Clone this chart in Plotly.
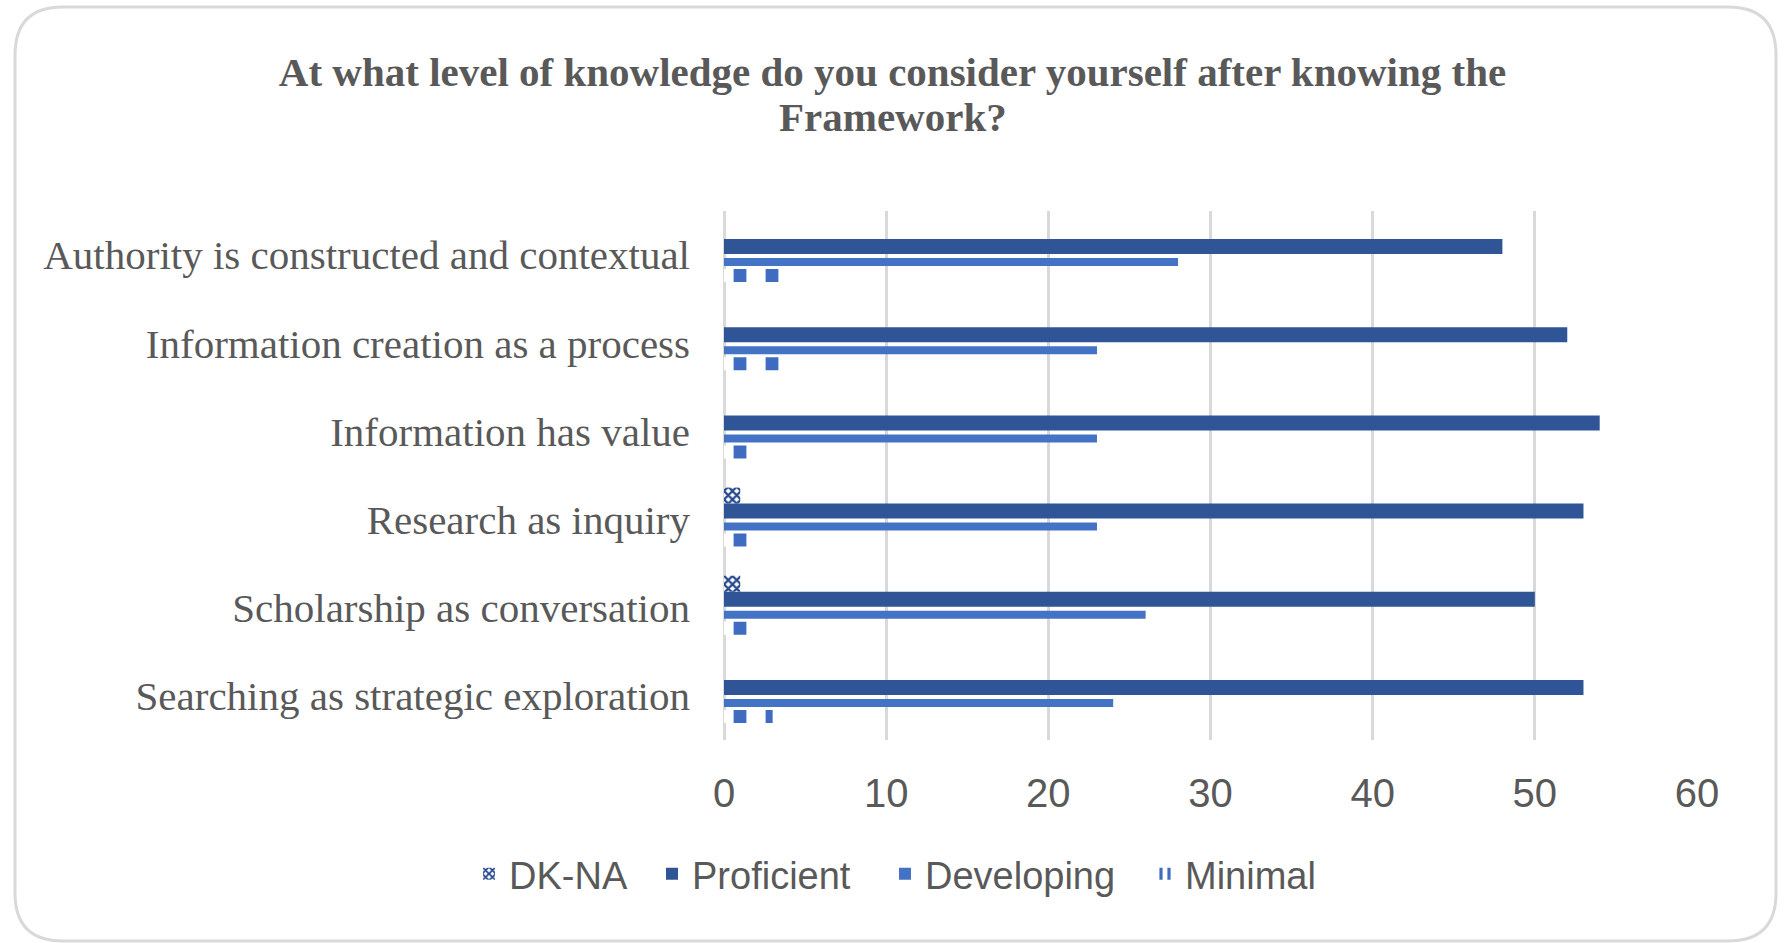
import plotly.graph_objects as go

categories = [
    "Authority is constructed and contextual",
    "Information creation as a process",
    "Information has value",
    "Research as inquiry",
    "Scholarship as conversation",
    "Searching as strategic exploration",
]
dk_na = [0, 0, 0, 1, 1, 0]
proficient = [48, 52, 54, 53, 50, 53]
developing = [28, 23, 23, 23, 26, 24]
minimal = [4, 4, 2, 2, 2, 3]
x_ticks = [0, 10, 20, 30, 40, 50, 60]
title_lines = ["At what level of knowledge do you consider yourself after knowing the", "Framework?"]

W, H = 1785, 943
L, R, T, B = 724, 1697, 211, 740  # plot area in pixels
BAND = (B - T) / len(categories)

GRAY = "#595959"
SANS = "Liberation Sans Narrow, Arial Narrow, Liberation Sans, sans-serif"
SERIF = "Liberation Serif, Times New Roman, serif"


def band(px_from, px_to):
    """offset/width in category units from pixel offsets relative to the category centre"""
    return dict(offset=px_from / BAND, width=(px_to - px_from) / BAND)


fig = go.Figure()
fig.add_trace(go.Bar(
    name="DK-NA", y=categories, x=dk_na, orientation="h", legend="legend",
    marker=dict(color="white", line=dict(width=0),
                pattern=dict(shape="x", fgcolor="#23468C", bgcolor="white", size=6,
                             solidity=0.6, fgopacity=1)),
    **band(-32, -16),
))
fig.add_trace(go.Bar(
    name="Proficient", y=categories, x=proficient, orientation="h", legend="legend2",
    marker=dict(color="#2F5597", line=dict(width=0)),
    **band(-16, -1),
))
fig.add_trace(go.Bar(
    name="Developing", y=categories, x=developing, orientation="h", legend="legend3",
    marker=dict(color="#4472C4", line=dict(width=0)),
    **band(3, 11),
))
fig.add_trace(go.Bar(
    name="Minimal", y=categories, x=minimal, orientation="h", legend="legend4",
    marker=dict(color="white", line=dict(width=0),
                pattern=dict(shape="|", fgcolor="#3F6CC0", bgcolor="white", size=32,
                             solidity=0.4, fgopacity=1)),
    **band(14, 27),
))


def px2paper(px, py):
    return (px - L) / (R - L), (B - py) / (B - T)


def P(px, py):
    a, b = px2paper(px, py)
    return f"{a:.5f},{b:.5f}"


x0, y0, x1, y1, r = 15, 7, 1776, 941, 48
path = (f"M {P(x0 + r, y0)} L {P(x1 - r, y0)} Q {P(x1, y0)} {P(x1, y0 + r)} "
        f"L {P(x1, y1 - r)} Q {P(x1, y1)} {P(x1 - r, y1)} "
        f"L {P(x0 + r, y1)} Q {P(x0, y1)} {P(x0, y1 - r)} "
        f"L {P(x0, y0 + r)} Q {P(x0, y0)} {P(x0 + r, y0)} Z")

_, leg_y = px2paper(0, 874)


def legend_at(icon_left_px):
    lx, _ = px2paper(icon_left_px - 14, 0)
    return dict(orientation="h", x=lx, xanchor="left", y=leg_y, yanchor="middle",
                font=dict(family=SANS, size=38, color=GRAY), bgcolor="rgba(0,0,0,0)",
                itemwidth=30, visible=True)


_, t2y = px2paper(0, 117)

fig.update_layout(
    width=W, height=H,
    margin=dict(l=L, r=W - R, t=T, b=H - B, pad=0),
    paper_bgcolor="white", plot_bgcolor="white",
    barmode="overlay", showlegend=True,
    title=dict(
        text="<b>" + title_lines[0] + "</b>",
        font=dict(family=SERIF, size=41, color=GRAY),
        x=0.5, xanchor="center", xref="container",
        y=1 - 72 / H, yanchor="middle", yref="container",
    ),
    annotations=[dict(
        text="<b>" + title_lines[1] + "</b>", xref="paper", yref="paper",
        x=px2paper(W / 2, 0)[0], y=t2y, xanchor="center", yanchor="middle",
        showarrow=False, font=dict(family=SERIF, size=41, color=GRAY),
    )],
    xaxis=dict(
        range=[0, 60], tickvals=x_ticks, showgrid=True, gridcolor="#D9D9D9", gridwidth=2.5,
        zeroline=True, zerolinecolor="#D9D9D9", zerolinewidth=2.5, showline=False,
        tickfont=dict(family=SANS, size=40, color=GRAY), ticks="", ticklabelstandoff=26,
    ),
    yaxis=dict(
        autorange="reversed", showgrid=False, zeroline=False, showline=False, ticks="",
        tickfont=dict(family=SERIF, size=41, color=GRAY), ticklabelstandoff=33,
    ),
    legend=legend_at(483),
    legend2=legend_at(666),
    legend3=legend_at(899),
    legend4=legend_at(1159),
    shapes=[dict(type="path", xref="paper", yref="paper", path=path,
                 line=dict(color="#D9D9D9", width=3), fillcolor="rgba(0,0,0,0)", layer="below")],
)

fig.write_html("out.html", config={"displayModeBar": False},
               post_script="document.body.style.margin='0';")
